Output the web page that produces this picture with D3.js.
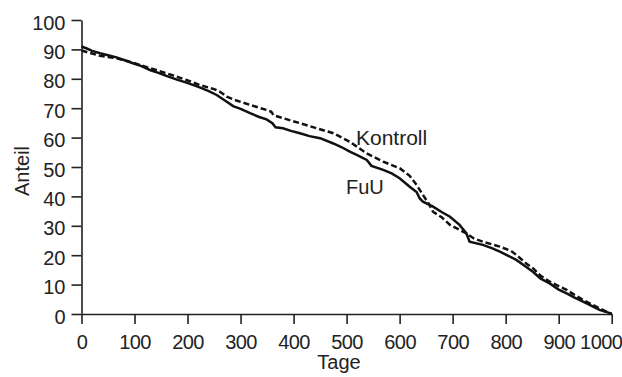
<!DOCTYPE html>
<html><head><meta charset="utf-8">
<script src="https://cdn.jsdelivr.net/npm/d3@7"></script>
<style>
body{margin:0;background:#fff;}
svg text{font-family:"Liberation Sans",Arial,sans-serif;fill:#222;}
</style></head>
<body><svg id="c" width="622" height="377"></svg>
<script>
const xTicks = [0,100,200,300,400,500,600,700,800,900,1000];
const yTicks = [0,10,20,30,40,50,60,70,80,90,100];

const fuuDays = [0,10,20,35,50,66,80,97,113,129,145,160,180,198,223,240,255,274,286,300,318,335,349,360,366,380,395,412,430,450,475,490,506,520,538,547,569,585,600,619,632,638,644,663,680,695,713,726,732,757,775,789,805,820,835,852,866,883,900,915,930,946,962,977,990,1000];
const fuuVals = [91,90.3,89.5,88.7,88,87.3,86.4,85.3,84.3,83,82,81,79.7,78.7,77.1,75.8,74.5,72.2,70.7,69.8,68.3,67,66.2,64.9,63.5,63.2,62.3,61.5,60.5,59.8,58,56.8,55.2,54,52.4,50.4,49,47.8,46.2,43.3,41.5,39.3,38.2,36.5,34.6,33.1,30.3,27.4,24.6,23.5,22.3,21.2,19.8,18.4,16.5,14.3,12,10.4,8.3,7,5.6,4.2,2.8,1.4,0.7,0];

const kontrollDays = [0,20,35,66,97,129,160,198,223,250,262,274,286,318,349,358,362,380,412,443,475,506,538,569,600,619,632,644,655,663,680,695,713,726,740,757,789,810,820,840,852,866,883,900,915,930,946,962,977,990,1000];
const kontrollVals = [89.6,88.6,87.8,87,85.5,83.6,81.9,79.6,77.9,76.5,75.5,73.9,73,71.1,69.4,68.8,67.6,66.6,64.9,63.2,61.5,58.6,54.6,51.8,49.6,47,43.9,40.5,37.5,34.8,32.8,30.3,28.6,27.4,25.7,24.6,22.9,21.5,20.1,17,15.5,13,11,9.5,8.2,6.5,4.8,3.3,1.9,0.8,0];

const svg = d3.select("#c");
const x = d3.scaleLinear().domain([0,1000]).range([81.5,611.7]);
const y = d3.scaleLinear().domain([0,100]).range([314,20]);

const xAxis = svg.append("g").attr("transform","translate(0,314)")
  .call(d3.axisBottom(x).tickValues(xTicks).tickSize(10).tickPadding(11).tickSizeOuter(0).tickFormat(d3.format("d")));
const yAxis = svg.append("g").attr("transform","translate(81.5,0)")
  .call(d3.axisLeft(y).tickValues(yTicks).tickSize(10).tickPadding(6).tickSizeOuter(0).tickFormat(d3.format("d")));
[xAxis,yAxis].forEach(a=>{
  a.selectAll("path,line").attr("stroke","#222").attr("stroke-width",1.6);
  a.selectAll("text").attr("font-size",20).attr("fill","#222").style("font-family","'Liberation Sans',Arial,sans-serif");
});
xAxis.selectAll("text").attr("letter-spacing","-0.6");
yAxis.selectAll("text").attr("dy","0.45em");
xAxis.selectAll(".tick").filter(d=>d===1000).select("text").attr("text-anchor","end").attr("x",10);

const line = d3.line().x(d=>x(d[0])).y(d=>y(d[1]));
const kData = kontrollDays.map((d,i)=>[d,kontrollVals[i]]);
const fData = fuuDays.map((d,i)=>[d,fuuVals[i]]);
svg.append("path").datum(kData).attr("d",line).attr("fill","none").attr("stroke","#111").attr("stroke-width",2.5).attr("stroke-dasharray","6,3");
svg.append("path").datum(fData).attr("d",line).attr("fill","none").attr("stroke","#111").attr("stroke-width",2.5);

svg.append("text").attr("x",356).attr("y",145).attr("font-size",21).text("Kontroll");
svg.append("text").attr("x",346).attr("y",194).attr("font-size",20).text("FuU");
svg.append("text").attr("x",339).attr("y",369).attr("text-anchor","middle").attr("font-size",20).text("Tage");
svg.append("text").attr("transform","translate(29,171) rotate(-90)").attr("text-anchor","middle").attr("font-size",20).text("Anteil");
</script></body></html>
